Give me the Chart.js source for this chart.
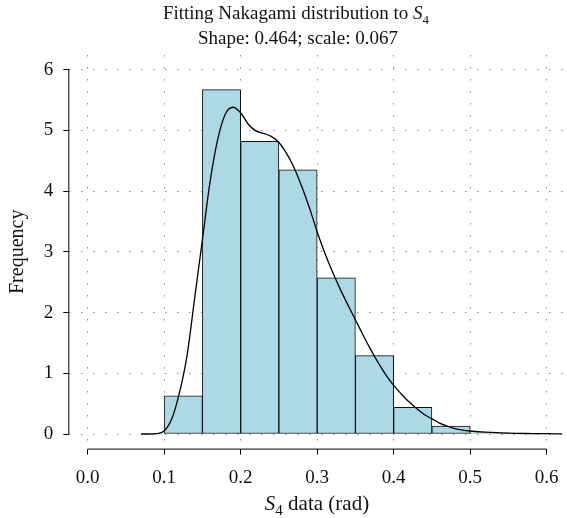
<!DOCTYPE html>
<html>
<head>
<meta charset="utf-8">
<script src="https://cdn.jsdelivr.net/npm/chart.js@4"></script>
<style>
  html, body { margin: 0; padding: 0; background: #fff; }
</style>
</head>
<body>
<canvas id="grafico" width="567" height="518"></canvas>
<script>
// dados do histograma (classes de 0.05)
const inicioClasses = [0.10, 0.15, 0.20, 0.25, 0.30, 0.35, 0.40, 0.45, 0.50];
const frequencias = [0.63, 5.67, 4.82, 4.35, 2.57, 1.29, 0.44, 0.13, 0.02];
const larguraClasse = 0.05;

// curva Nakagami ajustada
const curvaX = [0.07, 0.08, 0.09, 0.10, 0.11, 0.12, 0.13, 0.14, 0.15, 0.16,
  0.17, 0.18, 0.19, 0.20, 0.21, 0.22, 0.23, 0.24, 0.25, 0.26,
  0.27, 0.28, 0.29, 0.30, 0.31, 0.32, 0.33, 0.34, 0.35, 0.36,
  0.37, 0.38, 0.39, 0.40, 0.41, 0.42, 0.43, 0.44, 0.45, 0.46,
  0.47, 0.48, 0.49, 0.50, 0.52, 0.54, 0.56, 0.58, 0.60, 0.62];
const curvaY = [0, 0, 0.005, 0.05, 0.25, 0.68, 1.3, 2.25, 3.2, 4.15,
  4.85, 5.27, 5.38, 5.29, 5.10, 4.99, 4.95, 4.90, 4.80, 4.62,
  4.38, 4.07, 3.72, 3.33, 2.98, 2.67, 2.39, 2.13, 1.88, 1.63,
  1.39, 1.17, 0.97, 0.80, 0.66, 0.53, 0.42, 0.32, 0.25, 0.18,
  0.13, 0.09, 0.065, 0.05, 0.03, 0.02, 0.012, 0.008, 0.005, 0.003];

const ticksX = [0.0, 0.1, 0.2, 0.3, 0.4, 0.5, 0.6];
const ticksY = [0, 1, 2, 3, 4, 5, 6];

const fonte = "'Liberation Serif', 'DejaVu Serif', serif";
const corGrade = "#8c8c8c";

// escreve texto com S em italico e indice
function escreverComIndice(ctx, partes, cx, y, tam) {
  const fontes = {
    n: tam + "px " + fonte,
    i: "italic " + tam + "px " + fonte,
    s: Math.round(tam * 0.7) + "px " + fonte,
  };
  let total = 0;
  partes.forEach(([txt, est]) => {
    ctx.font = fontes[est];
    total += ctx.measureText(txt).width;
  });
  let x = cx - total / 2;
  ctx.textAlign = "left";
  ctx.textBaseline = "alphabetic";
  ctx.fillStyle = "#111";
  partes.forEach(([txt, est]) => {
    ctx.font = fontes[est];
    ctx.fillText(txt, x, est === "s" ? y + 5 : y);
    x += ctx.measureText(txt).width;
  });
}

// eixos no estilo do R (só vão de 0 a 0.6 e de 0 a 6)
const eixosR = {
  id: "eixosR",
  afterDraw(chart) {
    const ctx = chart.ctx;
    const sx = chart.scales.x;
    const sy = chart.scales.y;
    const area = chart.chartArea;
    ctx.save();
    ctx.strokeStyle = "#000";
    ctx.lineWidth = 1;
    ctx.beginPath();
    ctx.moveTo(sx.getPixelForValue(ticksX[0]), area.bottom + 0.5);
    ctx.lineTo(sx.getPixelForValue(ticksX[ticksX.length - 1]), area.bottom + 0.5);
    ctx.moveTo(area.left - 0.5, sy.getPixelForValue(ticksY[0]));
    ctx.lineTo(area.left - 0.5, sy.getPixelForValue(ticksY[ticksY.length - 1]));
    ctx.stroke();

    escreverComIndice(ctx, [["Fitting Nakagami distribution to ", "n"], ["S", "i"], ["4", "s"]], 296, 19, 19);
    escreverComIndice(ctx, [["Shape: 0.464; scale: 0.067", "n"]], 298, 44, 19);
    escreverComIndice(ctx, [["S", "i"], ["4", "s"], [" data (rad)", "n"]], 317, 510, 21);
    ctx.restore();
  },
};

const barras = inicioClasses.map((x0, i) => ({ x: x0 + larguraClasse / 2, y: frequencias[i] }));
const curva = curvaX.map((x, i) => ({ x: x, y: curvaY[i] }));

new Chart(document.getElementById("grafico"), {
  type: "bar",
  data: {
    datasets: [
      {
        type: "line",
        data: curva,
        borderColor: "#000",
        borderWidth: 1.3,
        pointRadius: 0,
        cubicInterpolationMode: "monotone",
        fill: false,
        order: 0,
      },
      {
        type: "bar",
        data: barras,
        backgroundColor: "#ADD8E6",
        borderColor: "#111",
        borderWidth: 1,
        borderSkipped: false,
        barPercentage: 1,
        categoryPercentage: 1,
        order: 1,
      },
    ],
  },
  options: {
    responsive: false,
    animation: false,
    layout: { padding: { top: 55, right: 2, left: 0, bottom: 0 } },
    plugins: {
      legend: { display: false },
      tooltip: { enabled: false },
      title: { display: false },
    },
    scales: {
      x: {
        type: "linear",
        min: -0.024,
        max: 0.624,
        offset: false,
        afterBuildTicks: (s) => { s.ticks = ticksX.map((v) => ({ value: v })); },
        afterFit: (s) => {
          s.height = 69.4;
          s.paddingLeft = 0;
          s.paddingRight = 0;
        },
        ticks: {
          callback: (v) => v.toFixed(1),
          color: "#111",
          font: { family: fonte, size: 19 },
          padding: 12,
          maxRotation: 0,
          autoSkip: false,
        },
        grid: {
          color: corGrade,
          offset: false,
          tickLength: 6,
          tickColor: "#000",
          tickBorderDash: [],
        },
        border: { display: false, dash: [1.5, 10.5] },
      },
      y: {
        min: -0.24,
        max: 6.24,
        afterBuildTicks: (s) => { s.ticks = ticksY.map((v) => ({ value: v })); },
        afterFit: (s) => {
          s.width = 69.3;
          s.paddingTop = 0;
          s.paddingBottom = 0;
        },
        ticks: {
          color: "#111",
          font: { family: fonte, size: 19 },
          padding: 10,
        },
        grid: {
          color: corGrade,
          tickLength: 6,
          tickColor: "#000",
          tickBorderDash: [],
        },
        border: { display: false, dash: [1.5, 10.5] },
        title: {
          display: true,
          text: "Frequency",
          color: "#111",
          font: { family: fonte, size: 20 },
          padding: { top: 6 },
        },
      },
    },
  },
  plugins: [eixosR],
});
</script>
</body>
</html>
